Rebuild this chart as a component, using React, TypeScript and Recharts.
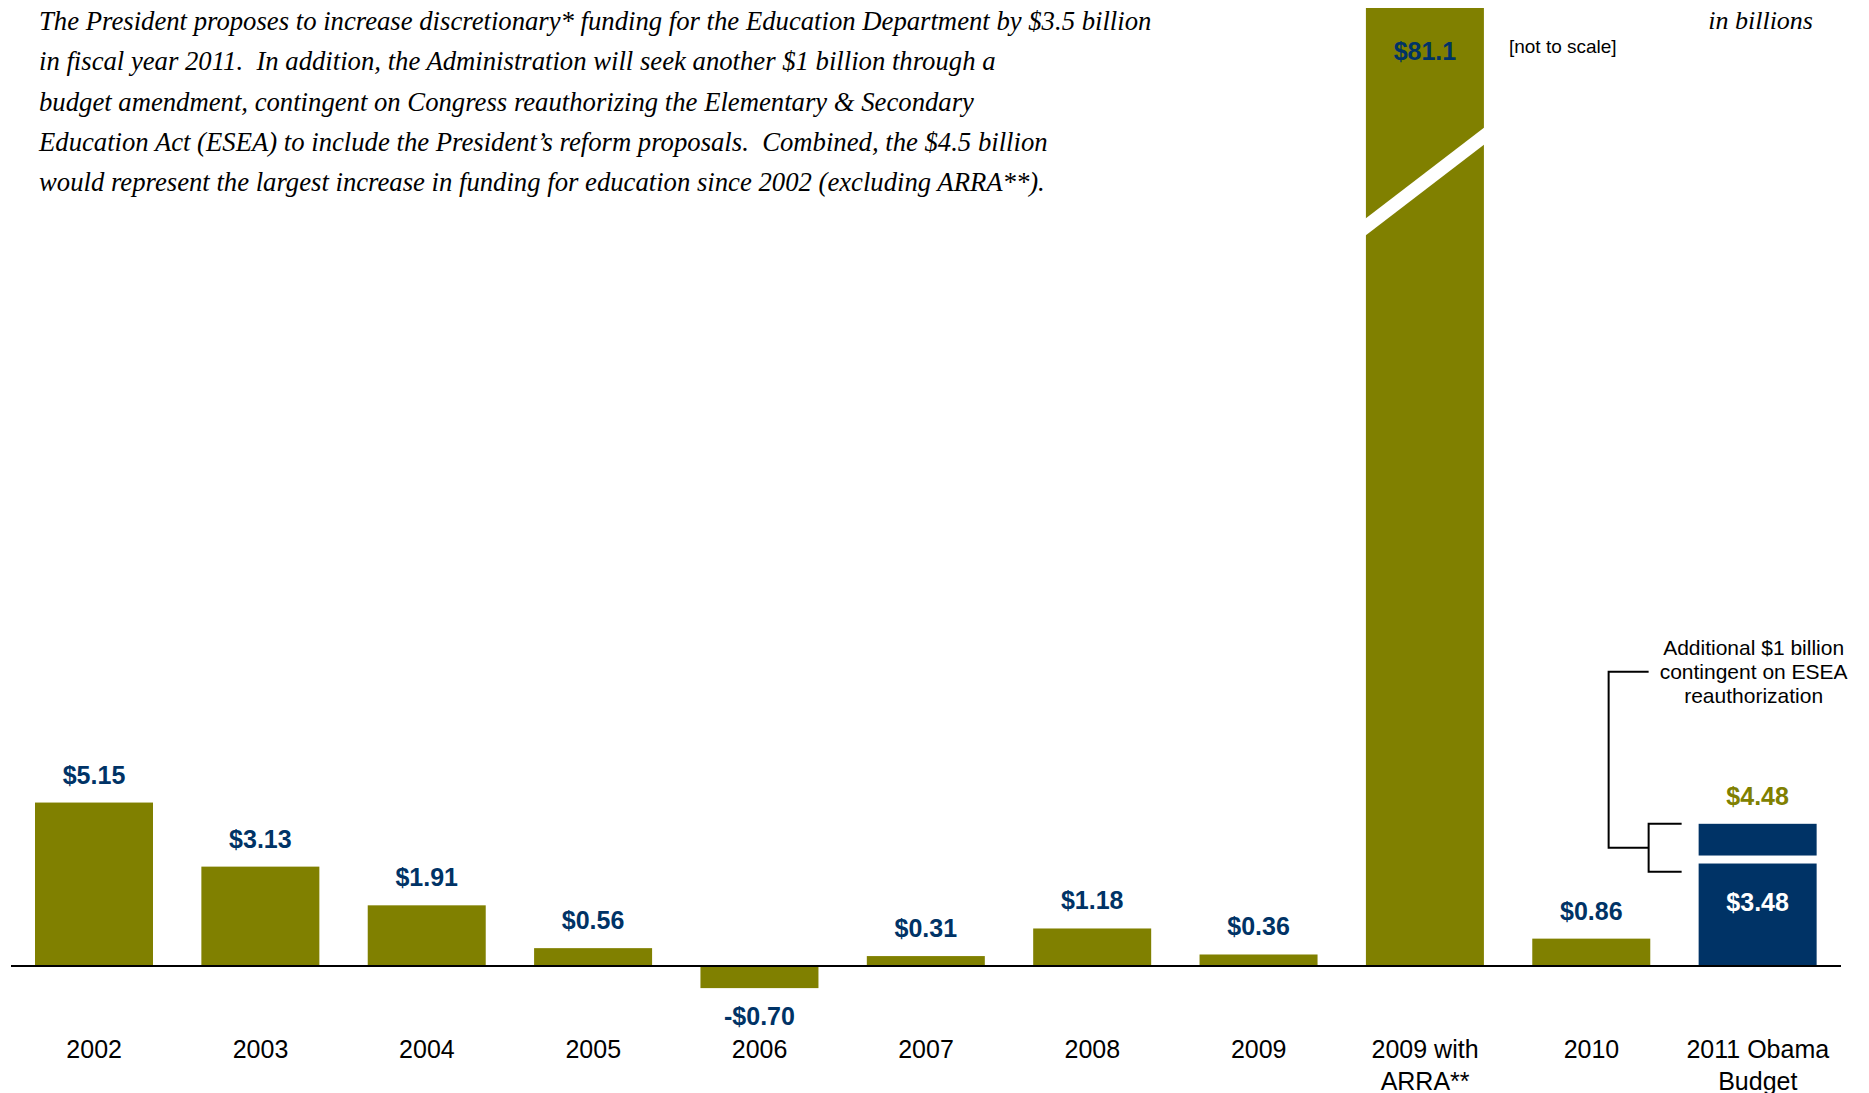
import React from 'react';
import { BarChart, Bar, XAxis, YAxis, ReferenceLine, LabelList } from 'recharts';

// categories, tick labels split on \n
const years = [
  '2002',
  '2003',
  '2004',
  '2005',
  '2006',
  '2007',
  '2008',
  '2009',
  '2009 with\nARRA**',
  '2010',
  '2011 Obama\nBudget',
];

// yearly increase in discretionary funding, in billions
const increases = [5.15, 3.13, 1.91, 0.56, -0.7, 0.31, 1.18, 0.36, 81.1, 0.86, null];
const increaseLabels = ['$5.15', '$3.13', '$1.91', '$0.56', '-$0.70', '$0.31', '$1.18', '$0.36', '$81.1', '$0.86', null];

// 2011 request, split into the budget and the ESEA amendment
const budgetRequest = [null, null, null, null, null, null, null, null, null, null, 3.48];
const eseaAmendment = [null, null, null, null, null, null, null, null, null, null, 1.0];
const budgetLabel = '$3.48';
const totalLabel = '$4.48';

const introLines = [
  'The President proposes to increase discretionary* funding for the Education Department by $3.5 billion',
  'in fiscal year 2011.  In addition, the Administration will seek another $1 billion through a',
  'budget amendment, contingent on Congress reauthorizing the Elementary & Secondary',
  'Education Act (ESEA) to include the President\u2019s reform proposals.  Combined, the $4.5 billion',
  'would represent the largest increase in funding for education since 2002 (excluding ARRA**).',
];
const noteLines = ['Additional $1 billion', 'contingent on ESEA', 'reauthorization'];

const OLIVE = '#808000';
const NAVY = '#003366';
const SANS = '"Liberation Sans", Arial, sans-serif';
const SERIF = '"Liberation Serif", "Times New Roman", serif';

// y range is cut so the ARRA bar runs off the top
const Y_MAX = 30.2;
const Y_MIN = -1.8;
const CHART_TOP = 8;

const data = years.map((year, i) => ({
  year,
  increase: increases[i],
  budget: budgetRequest[i],
  amendment: eseaAmendment[i],
  label: increaseLabels[i],
}));

const YearTick = (props: any) => {
  const { x, y, payload } = props;
  const lines = String(payload.value).split('\n');
  return (
    <text x={x} y={y} textAnchor="middle" fontFamily={SANS} fontSize={25} fill="#000">
      {lines.map((l, i) => (
        <tspan key={i} x={x} dy={i === 0 ? 27 : 32}>
          {l}
        </tspan>
      ))}
    </text>
  );
};

const IncreaseShape = (props: any) => {
  const { x, y, width, height, fill, payload } = props;
  if (payload.increase == null) return null;
  const top = Math.min(y, y + height);
  const h = Math.abs(height);
  if (payload.increase <= Y_MAX) {
    return <rect x={x} y={top} width={width} height={h} fill={fill} />;
  }
  // broken bar: white slash across it
  const base = top + h;
  return (
    <g>
      <rect x={x} y={top} width={width} height={h} fill={fill} />
      <polygon
        points={`${x - 1},${base - 747} ${x + width + 1},${base - 839} ${x + width + 1},${base - 822} ${x - 1},${base - 730}`}
        fill="#fff"
      />
    </g>
  );
};

const BudgetShape = (props: any) => {
  const { x, y, width, height, fill } = props;
  if (!height) return null;
  const gap = 8;
  return <rect x={x} y={y + gap} width={width} height={height - gap} fill={fill} />;
};

const AmendmentShape = (props: any) => {
  const { x, y, width, height, fill } = props;
  if (!height) return null;
  const bx = x - 50;
  const ox = x - 90;
  const cx = x + width / 2 - 4;
  return (
    <g>
      <rect x={x} y={y} width={width} height={height} fill={fill} />
      <path
        d={`M${x - 17},${y} H${bx} V${y + 48} H${x - 17} M${bx},${y + 24} H${ox} V${y - 152} H${bx}`}
        fill="none"
        stroke="#000"
        strokeWidth={2}
      />
      <text x={cx} y={y - 176} textAnchor="middle" fontFamily={SANS} fontSize={21} fill="#000">
        {noteLines.map((l, i) => (
          <tspan key={i} x={cx} dy={i === 0 ? 0 : 24} dominantBaseline="central">
            {l}
          </tspan>
        ))}
      </text>
    </g>
  );
};

const renderIncreaseLabel = (props: any) => {
  const { x, y, width, height, value } = props;
  if (value == null) return null;
  const cx = x + width / 2;
  const top = Math.min(y, y + height);
  const bottom = Math.max(y, y + height);
  let ty = top - 28;
  if (String(value).startsWith('-')) ty = bottom + 28;
  if (value === '$81.1') ty = CHART_TOP + 43;
  return (
    <g>
      <text x={cx} y={ty} textAnchor="middle" dominantBaseline="central" fontFamily={SANS} fontWeight="bold" fontSize={25} fill={NAVY}>
        {value}
      </text>
      {value === '$81.1' && (
        <text x={x + width + 25} y={CHART_TOP + 38} dominantBaseline="central" fontFamily={SANS} fontSize={19} fill="#000">
          [not to scale]
        </text>
      )}
    </g>
  );
};

const renderBudgetLabel = (props: any) => {
  const { x, y, width, value } = props;
  if (value == null) return null;
  return (
    <text x={x + width / 2} y={y + 46} textAnchor="middle" dominantBaseline="central" fontFamily={SANS} fontWeight="bold" fontSize={25} fill="#fff">
      {budgetLabel}
    </text>
  );
};

const renderTotalLabel = (props: any) => {
  const { x, y, width, value } = props;
  if (value == null) return null;
  return (
    <text x={x + width / 2} y={y - 28} textAnchor="middle" dominantBaseline="central" fontFamily={SANS} fontWeight="bold" fontSize={25} fill={OLIVE}>
      {totalLabel}
    </text>
  );
};

export default function App() {
  return (
    <div style={{ position: 'absolute', left: 0, top: 0, width: 1869, height: 1093, background: '#fff' }}>
      <BarChart
        width={1869}
        height={1093}
        data={data}
        margin={{ top: CHART_TOP, right: 28, left: 11, bottom: 0 }}
        barSize={118}
      >
        <XAxis dataKey="year" axisLine={false} tickLine={false} interval={0} height={70} tick={<YearTick />} />
        <YAxis hide domain={[Y_MIN, Y_MAX]} allowDataOverflow />
        <Bar dataKey="increase" stackId="a" fill={OLIVE} shape={<IncreaseShape />} isAnimationActive={false}>
          <LabelList dataKey="label" content={renderIncreaseLabel} />
        </Bar>
        <Bar dataKey="budget" stackId="a" fill={NAVY} shape={<BudgetShape />} isAnimationActive={false}>
          <LabelList dataKey="budget" content={renderBudgetLabel} />
        </Bar>
        <Bar dataKey="amendment" stackId="a" fill={NAVY} shape={<AmendmentShape />} isAnimationActive={false}>
          <LabelList dataKey="amendment" content={renderTotalLabel} />
        </Bar>
        <ReferenceLine y={0} stroke="#000" strokeWidth={2} />
      </BarChart>
      <div
        style={{
          position: 'absolute',
          left: 39,
          top: 1,
          fontFamily: SERIF,
          fontStyle: 'italic',
          fontSize: 26.7,
          lineHeight: '40.3px',
          color: '#000',
          whiteSpace: 'pre',
        }}
      >
        {introLines.map((l, i) => (
          <div key={i}>{l}</div>
        ))}
      </div>
      <div
        style={{
          position: 'absolute',
          right: 1869 - 1813,
          top: 1,
          fontFamily: SERIF,
          fontStyle: 'italic',
          fontSize: 26,
          lineHeight: '40.3px',
          color: '#000',
        }}
      >
        in billions
      </div>
    </div>
  );
}
